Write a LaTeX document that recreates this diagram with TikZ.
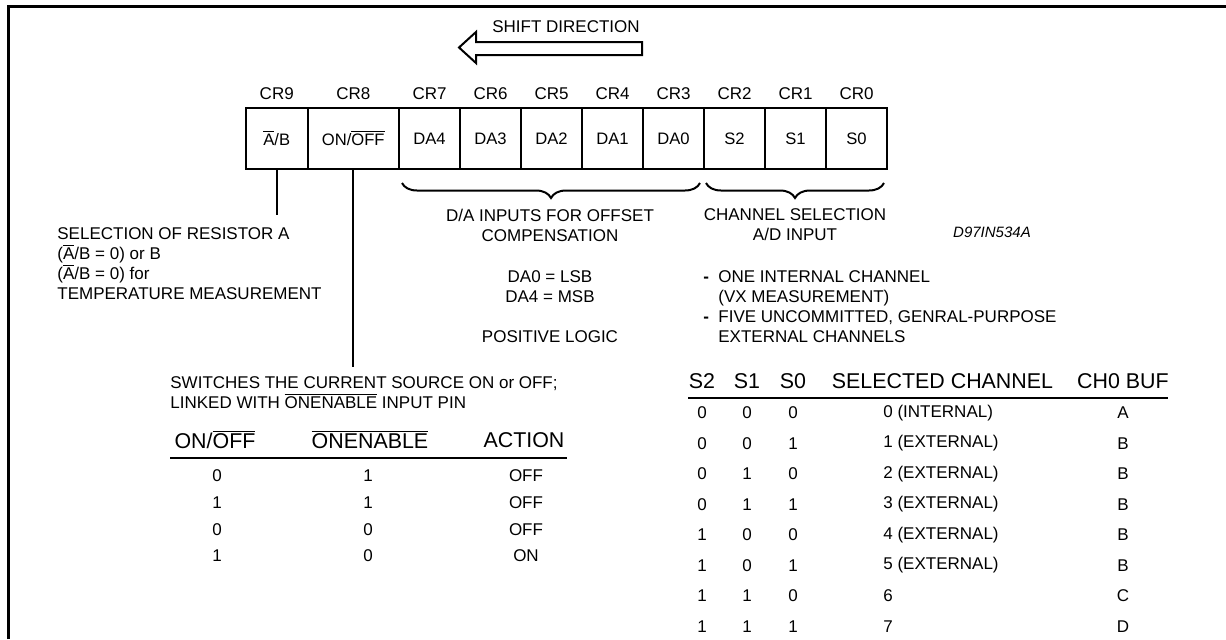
\documentclass[tikz,border=0pt]{standalone}
\usepackage{fontspec}
\setmainfont{Liberation Sans}
\usetikzlibrary{decorations.pathreplacing}
\newcommand\ovl[1]{\leavevmode\vbox{\hrule height 0.5pt\kern 1.1pt\hbox{#1}}}
\newcommand\dashitem{\llap{\makebox[7.5pt][l]{\textbf{-}}}}
\begin{document}
\begin{tikzpicture}[x=0.5pt,y=-0.5pt,
  base/.style={font=\fontsize{8.5}{10}\selectfont, inner sep=0pt},
  small/.style={font=\fontsize{7.5}{9}\selectfont\itshape, inner sep=0pt},
  hdr/.style={font=\fontsize{10.7}{12}\selectfont, inner sep=0pt},
  cell/.style={draw, line width=1pt, minimum height=30.5pt, inner sep=0pt, font=\fontsize{8.3}{10}\selectfont},
  lnk/.style={line width=1pt},
  rulel/.style={line width=1pt},
  brc/.style={decorate, decoration={brace, amplitude=7.5pt}, line width=1pt}
]
\useasboundingbox (0,0) rectangle (1226,639);
% frame
\draw[line width=1.5pt] (8.5,639) -- (8.5,6.5) -- (1226,6.5);
% shift arrow
\draw[line width=1pt, line join=miter] (642,42) -- (476,42) -- (476,32) -- (459,47.5) -- (476,63) -- (476,55) -- (642,55) -- cycle;
\node[base] (shift) at (566,27) {SHIFT DIRECTION};
% register cells
\node[cell, minimum width=30.75pt] (c9) at (276.75,138.5) {\ovl{A}/B};
\node[cell, minimum width=45.75pt] (c8) at (353.25,138.5) {ON/\ovl{OFF}};
\node[cell, minimum width=30.5pt] (c7) at (429.5,138.5) {DA4};
\node[cell, minimum width=30.5pt] (c6) at (490.5,138.5) {DA3};
\node[cell, minimum width=30.5pt] (c5) at (551.5,138.5) {DA2};
\node[cell, minimum width=30.5pt] (c4) at (612.5,138.5) {DA1};
\node[cell, minimum width=30.5pt] (c3) at (673.5,138.5) {DA0};
\node[cell, minimum width=30.5pt] (c2) at (734.5,138.5) {S2};
\node[cell, minimum width=30.5pt] (c1) at (795.5,138.5) {S1};
\node[cell, minimum width=30.5pt] (c0) at (856.5,138.5) {S0};
% labels
\node[base] (l9) at (276.75,94) {CR9};
\node[base] (l8) at (353.25,94) {CR8};
\node[base] (l7) at (429.5,94) {CR7};
\node[base] (l6) at (490.5,94) {CR6};
\node[base] (l5) at (551.5,94) {CR5};
\node[base] (l4) at (612.5,94) {CR4};
\node[base] (l3) at (673.5,94) {CR3};
\node[base] (l2) at (734.5,94) {CR2};
\node[base] (l1) at (795.5,94) {CR1};
\node[base] (l0) at (856.5,94) {CR0};
% connectors
\coordinate (e9) at (276.75,215);
\draw[lnk] (c9.south) -- (e9);
\coordinate (e8) at (353.25,367);
\draw[lnk] (c8.south) -- (e8);
% braces
\coordinate (b1a) at (700,183); \coordinate (b1b) at (402,183);
\draw[brc] (b1a) -- (b1b);
\coordinate (b2a) at (884,183); \coordinate (b2b) at (706,183);
\draw[brc] (b2a) -- (b2b);
% texts
\node[base, align=center] (da) at (550,225) {D/A INPUTS FOR OFFSET\\COMPENSATION};
\node[base, align=center] (ch) at (795,225) {CHANNEL SELECTION\\A/D INPUT};
\node[small] (code) at (992,232) {D97IN534A};
\node[base, align=left, anchor=west] (sel) at (57,264) {SELECTION OF RESISTOR A\\(\ovl{A}/B = 0) or B\\(\ovl{A}/B = 0) for\\TEMPERATURE MEASUREMENT};
\node[base, align=center] (lsb) at (550,286.5) {DA0 = LSB\\DA4 = MSB};
\node[base] (pos) at (550,337) {POSITIVE LOGIC};
\node[base, align=left, anchor=west] (t1) at (718,306.5) {\dashitem ONE INTERNAL CHANNEL\\(VX MEASUREMENT)\\\dashitem FIVE UNCOMMITTED, GENRAL-PURPOSE\\EXTERNAL CHANNELS};
\node[base, align=left, anchor=west] (sw) at (170,393) {SWITCHES THE CURRENT SOURCE ON or OFF;\\LINKED WITH \ovl{ONENABLE} INPUT PIN};
% left table
\node[hdr] (h1) at (215,440) {ON/\ovl{OFF}};
\node[hdr] (h2) at (370,440) {\ovl{ONENABLE}};
\node[hdr] (h3) at (524,440) {ACTION};
\coordinate (r1a) at (170,458); \coordinate (r1b) at (567,458);
\draw[rulel] (r1a) -- (r1b);
\foreach \y/\a/\b/\c [count=\i] in {476/0/1/OFF, 503/1/1/OFF, 530/0/0/OFF, 556/1/0/ON}{
  \node[base] (la\i) at (217,\y) {\a};
  \node[base] (lb\i) at (368,\y) {\b};
  \node[base] (lc\i) at (526,\y) {\c};
}
% right table
\node[hdr] (k1) at (702,381) {S2};
\node[hdr] (k2) at (747,381) {S1};
\node[hdr] (k3) at (793,381) {S0};
\node[hdr] (k4) at (942.5,381) {SELECTED CHANNEL};
\node[hdr] (k5) at (1123,381) {CH0 BUF};
\coordinate (r2a) at (688,398); \coordinate (r2b) at (1168,398);
\draw[rulel] (r2a) -- (r2b);
\foreach \y/\a/\b/\c/\d/\e [count=\i] in {412.7/0/0/0/0 (INTERNAL)/A, 443.2/0/0/1/1 (EXTERNAL)/B, 473.7/0/1/0/2 (EXTERNAL)/B, 504.2/0/1/1/3 (EXTERNAL)/B, 534.7/1/0/0/4 (EXTERNAL)/B, 565.2/1/0/1/5 (EXTERNAL)/B, 595.7/1/1/0/6/C, 626.2/1/1/1/7/D}{
  \node[base] (ra\i) at (702,\y) {\a};
  \node[base] (rb\i) at (747,\y) {\b};
  \node[base] (rc\i) at (793,\y) {\c};
  \node[base, anchor=west] (rd\i) at (883,\y) {\d};
  \node[base] (re\i) at (1123,\y) {\e};
}
\end{tikzpicture}
\end{document}
